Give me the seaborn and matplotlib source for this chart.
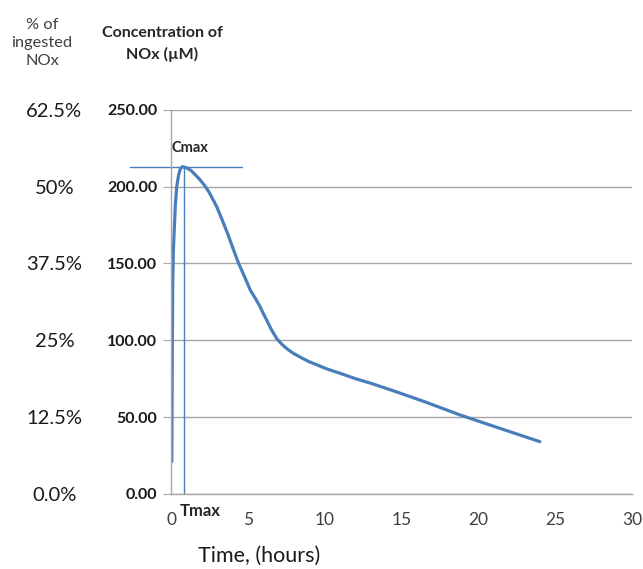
import pandas as pd
import matplotlib
matplotlib.use("Agg")
import matplotlib.pyplot as plt
import seaborn as sns

# Values
time_h = [0.05, 0.08, 0.11, 0.15, 0.2, 0.28, 0.37, 0.5, 0.6, 0.74, 1.0, 1.3,
          1.6, 1.89, 2.2, 2.5, 2.97, 3.3, 3.7, 4.06, 4.4, 4.8, 5.14, 5.5,
          5.79, 6.0, 6.23, 6.5, 6.88, 7.2, 7.6, 7.96, 8.5, 9.0, 10.1, 11.0,
          12.0, 13.0, 14.5, 16.5, 18.8, 21.0, 24.0]
conc_uM = [21, 90, 137, 158, 170, 188, 200, 208, 211.5, 213, 212.3, 210.5,
           207.5, 204.4, 200.5, 196, 187, 179, 169, 159, 150, 141, 133, 127,
           122, 117.5, 113, 107.5, 101, 97.5, 94, 91.5, 88.5, 86, 81.5, 78.5,
           75, 72, 67, 60, 51.4, 44, 34]

cmax = 213
tmax = 0.87

conc_ticks = [0, 50, 100, 150, 200, 250]
pct_ticks = [0, 12.5, 25, 37.5, 50, 62.5]
pct_labels = ["0.0%", "12.5%", "25%", "37.5%", "50%", "62.5%"]
x_ticks = [0, 5, 10, 15, 20, 25, 30]

df = pd.DataFrame({"time": time_h, "conc": conc_uM})

sns.set_style("white")
plt.rcParams["font.family"] = ["Lato", "DejaVu Sans"]

line_col = "#4a7ebb"
grid_col = "#a6a6a6"

fig = plt.figure(figsize=(6.43, 5.69), dpi=100)
ax = fig.add_axes([0.266, 0.132, 0.717, 0.675])

sns.lineplot(data=df, x="time", y="conc", ax=ax, color=line_col, linewidth=2.3)

ax.set_xlim(0, 30)
ax.set_ylim(0, 250)
ax.set_xticks(x_ticks)
ax.set_xticklabels([str(t) for t in x_ticks], fontsize=12.5, color="#404040")
ax.set_yticks(conc_ticks)
ax.set_yticklabels([f"{v:.2f}" for v in conc_ticks], fontsize=11.5,
                   fontweight="bold", color="#1a1a1a")
ax.tick_params(axis="y", length=6, color=grid_col, pad=4)
ax.tick_params(axis="x", length=5, color=grid_col, pad=8)
ax.grid(axis="y", color=grid_col, linewidth=1)
ax.set_axisbelow(True)
for side in ["top", "right"]:
    ax.spines[side].set_visible(False)
for side in ["left", "bottom"]:
    ax.spines[side].set_color(grid_col)
    ax.spines[side].set_linewidth(1)

# Cmax / Tmax markers
ax.plot([-2.7, 4.6], [cmax, cmax], color=line_col, linewidth=1, clip_on=False)
ax.plot([tmax, tmax], [0, cmax], color=line_col, linewidth=1)
ax.text(0.05, 225, "Cmax", fontsize=10.5, fontweight="bold", va="center", ha="left")
ax.text(0.55, -11, "Tmax", fontsize=12, fontweight="bold", va="center",
        ha="left", clip_on=False)

ax.set_xlabel("Time, (hours)", fontsize=15.5, color="#1a1a1a")
ax.xaxis.set_label_coords(0.19, -0.135)
ax.set_ylabel("")

# Secondary scale: percent of ingested NOx
ax2 = ax.twinx()
ax2.set_ylim(0, 62.5)
ax2.yaxis.tick_left()
ax2.set_yticks(pct_ticks)
ax2.set_yticklabels(pct_labels, fontsize=14.5, color="#1a1a1a")
for lbl in ax2.get_yticklabels():
    lbl.set_horizontalalignment("center")
ax2.tick_params(axis="y", length=0, pad=84)
for side in ["top", "right", "left", "bottom"]:
    ax2.spines[side].set_visible(False)

fig.text(162 / 643, 1 - 44 / 569, "Concentration of\nNOx (\u00b5M)", fontsize=11.5,
         fontweight="bold", ha="center", va="center", linespacing=1.55)
fig.text(42 / 643, 1 - 43 / 569, "% of\ningested\nNOx", fontsize=11.8,
         color="#404040", ha="center", va="center", linespacing=1.35)

fig.savefig("out.png", dpi=100)
